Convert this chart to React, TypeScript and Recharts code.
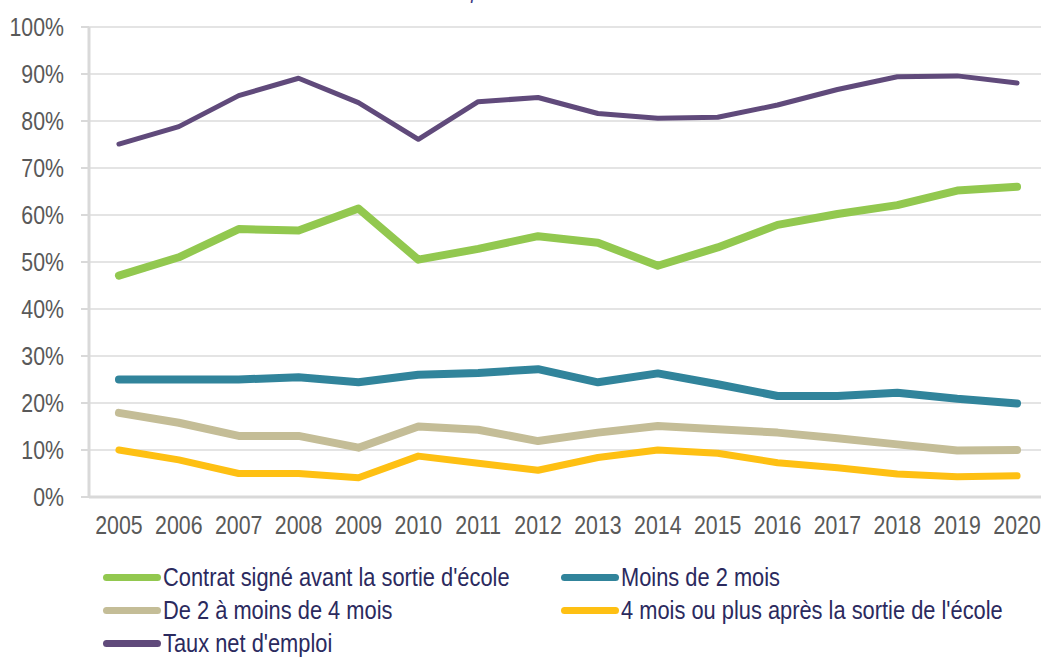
import { LineChart, Line, XAxis, YAxis, CartesianGrid } from "recharts";

const years = [2005, 2006, 2007, 2008, 2009, 2010, 2011, 2012, 2013, 2014, 2015, 2016, 2017, 2018, 2019, 2020];
const tauxNet = [75.1, 78.8, 85.4, 89.1, 83.9, 76.1, 84.1, 85.0, 81.6, 80.6, 80.8, 83.4, 86.7, 89.4, 89.6, 88.1];
const contratAvant = [47.1, 51.0, 57.0, 56.7, 61.4, 50.5, 52.8, 55.5, 54.1, 49.2, 53.1, 57.9, 60.2, 62.1, 65.2, 66.0];
const moins2 = [25.0, 25.0, 25.0, 25.5, 24.4, 26.0, 26.4, 27.2, 24.4, 26.3, 24.0, 21.5, 21.5, 22.2, 20.9, 19.9];
const de2a4 = [17.9, 15.8, 13.0, 13.0, 10.5, 15.0, 14.3, 11.9, 13.7, 15.1, 14.4, 13.7, 12.5, 11.2, 9.9, 10.0];
const plus4 = [10.0, 7.9, 5.0, 5.0, 4.1, 8.7, 7.2, 5.7, 8.4, 10.0, 9.3, 7.3, 6.2, 4.9, 4.3, 4.5];

const yTicks = [0, 10, 20, 30, 40, 50, 60, 70, 80, 90, 100];
const yearEdges = [2004.5, 2005.5, 2006.5, 2007.5, 2008.5, 2009.5, 2010.5, 2011.5, 2012.5, 2013.5, 2014.5, 2015.5, 2016.5, 2017.5, 2018.5, 2019.5, 2020.5];

const series = [
  { key: "contrat", name: "Contrat signé avant la sortie d'école", color: "#92c84f", width: 8, values: contratAvant },
  { key: "moins2", name: "Moins de 2 mois", color: "#31849b", width: 8, values: moins2 },
  { key: "de2a4", name: "De 2 à moins de 4 mois", color: "#c4bd97", width: 8, values: de2a4 },
  { key: "plus4", name: "4 mois ou plus après la sortie de l'école", color: "#fec013", width: 7, values: plus4 },
  { key: "taux", name: "Taux net d'emploi", color: "#604a7b", width: 5, values: tauxNet },
];

const data = years.map((year, i) => {
  const row: Record<string, number> = { year };
  series.forEach((s) => (row[s.key] = s.values[i]));
  return row;
});

// no Arial Narrow here: squeeze Liberation Sans horizontally instead
const FONT = "'Liberation Sans', Arial, sans-serif";
const NARROW = 0.82;
const AXIS_GREY = "#d9d9d9";
const LABEL_GREY = "#595959";

const YearTick = ({ x, y, payload }: any) => (
  <text transform={`translate(${x},${y}) scale(${NARROW},1)`} textAnchor="middle" dy="0.71em" fill={LABEL_GREY} fontSize={26} fontFamily={FONT}>
    {payload.value}
  </text>
);

const PctTick = ({ x, y, payload }: any) => (
  <text transform={`translate(${x},${y}) scale(${NARROW},1)`} textAnchor="end" dy="0.355em" fill={LABEL_GREY} fontSize={26} fontFamily={FONT}>
    {`${payload.value}%`}
  </text>
);

export default function App() {
  return (
    <div style={{ position: "absolute", left: 0, top: 0, width: 1041, height: 657, overflow: "hidden", background: "#fff", fontFamily: FONT }}>
      <div style={{ position: "absolute", left: 465, top: -17, fontSize: 18, fontStyle: "italic", color: "#3b3780", whiteSpace: "nowrap" }}>
        questionnaire insertion
      </div>
      <LineChart width={1060} height={560} data={data} margin={{ top: 27, right: 13, bottom: 13, left: 0 }}>
        <CartesianGrid vertical={false} stroke="#e4e4e4" strokeWidth={2} />
        <XAxis
          xAxisId="edges"
          dataKey="year"
          type="number"
          domain={[2004.5, 2020.5]}
          ticks={yearEdges}
          interval={0}
          tick={false}
          tickSize={8}
          tickLine={{ stroke: AXIS_GREY, strokeWidth: 2 }}
          axisLine={false}
          height={0}
        />
        <XAxis
          dataKey="year"
          type="number"
          domain={[2004.5, 2020.5]}
          ticks={years}
          interval={0}
          tickLine={false}
          tickSize={6}
          axisLine={{ stroke: AXIS_GREY, strokeWidth: 3 }}
          tick={<YearTick />}
          tickMargin={13}
          height={50}
        />
        <YAxis
          domain={[0, 100]}
          ticks={yTicks}
          interval={0}
          width={89}
          tickSize={8}
          tickMargin={17}
          tickLine={{ stroke: AXIS_GREY, strokeWidth: 2 }}
          axisLine={{ stroke: AXIS_GREY, strokeWidth: 3 }}
          tick={<PctTick />}
        />
        {series.map((s) => (
          <Line
            key={s.key}
            dataKey={s.key}
            name={s.name}
            stroke={s.color}
            strokeWidth={s.width}
            strokeLinecap="round"
            strokeLinejoin="round"
            dot={false}
            activeDot={false}
            isAnimationActive={false}
          />
        ))}
      </LineChart>
      <div style={{ position: "absolute", left: 103, top: 561, width: 930, display: "grid", gridTemplateColumns: "458px 470px", fontSize: 26, color: "#2b2a5e" }}>
        {series.map((s) => (
          <div key={s.key} style={{ display: "flex", alignItems: "center", height: 33 }}>
            <span style={{ display: "inline-block", flex: "none", width: 58, height: 7, borderRadius: 4, background: s.color, marginRight: 2 }} />
            <span style={{ whiteSpace: "nowrap", display: "inline-block", transform: "scaleX(0.84)", transformOrigin: "left center" }}>{s.name}</span>
          </div>
        ))}
      </div>
    </div>
  );
}
